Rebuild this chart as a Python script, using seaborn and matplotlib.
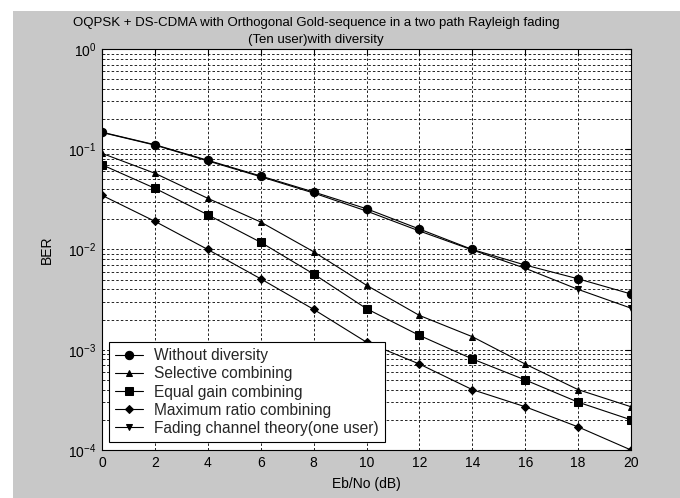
import numpy as np
import pandas as pd
import matplotlib
matplotlib.use("Agg")
import matplotlib.pyplot as plt
from matplotlib.patches import Rectangle
from matplotlib.ticker import LogLocator, FixedLocator, NullFormatter
import seaborn as sns

ebno = [0, 2, 4, 6, 8, 10, 12, 14, 16, 18, 20]
without_div = [0.148, 0.111, 0.0776, 0.0541, 0.0375, 0.0255, 0.0160, 0.0100, 0.0070, 0.0051, 0.0036]
selective = [0.091, 0.0576, 0.0324, 0.0188, 0.0095, 0.0044, 0.0022, 0.00135, 0.00072, 0.00040, 0.00027]
equal_gain = [0.070, 0.0408, 0.0222, 0.0118, 0.0057, 0.00257, 0.00139, 0.00081, 0.00050, 0.00030, 0.00020]
max_ratio = [0.0347, 0.0191, 0.0100, 0.0051, 0.00253, 0.00119, 0.00072, 0.00040, 0.00027, 0.00017, 0.0001]
theory = [0.147, 0.110, 0.0765, 0.0532, 0.0366, 0.0242, 0.0153, 0.0099, 0.0065, 0.0040, 0.0026]

labels = ["Without diversity", "Selective combining", "Equal gain combining",
          "Maximum ratio combining", "Fading channel theory(one user)"]
series = [without_div, selective, equal_gain, max_ratio, theory]
markers = ["o", "^", "s", "D", "v"]
msizes = [6.0, 5.0, 6.0, 4.0, 5.0]

title_line1 = "OQPSK + DS-CDMA with Orthogonal Gold-sequence in a two path Rayleigh fading"
title_line2 = "(Ten user)with diversity"

sns.set_theme(style="white")
plt.rcParams["font.family"] = ["Liberation Sans", "DejaVu Sans"]
plt.rcParams["mathtext.default"] = "regular"

W, H = 680, 498
fig = plt.figure(figsize=(6.8, 4.98), dpi=100, facecolor="white")
fig.patches.append(Rectangle((13 / W, 0), 1 - 13 / W, 1 - 11 / H, transform=fig.transFigure,
                             facecolor="#c8c8c8", edgecolor="none", zorder=-10))

ax = fig.add_axes([102 / W, 1 - 450 / H, (631 - 102) / W, (450 - 49) / H])
ax.set_facecolor("white")

rows = []
for lab, vals in zip(labels, series):
    for x, v in zip(ebno, vals):
        rows.append({"EbNo": x, "BER": v, "series": lab})
df = pd.DataFrame(rows)

for lab, mk, ms in zip(labels, markers, msizes):
    sns.lineplot(data=df[df["series"] == lab], x="EbNo", y="BER", ax=ax, color="black",
                 marker=mk, markersize=ms, markeredgecolor="black", markerfacecolor="black",
                 linewidth=0.8, label=lab, estimator=None, errorbar=None, zorder=3)

ax.set_yscale("log")
ax.set_xlim(0, 20)
ax.set_ylim(1e-4, 1)
ax.xaxis.set_major_locator(FixedLocator(ebno))
ax.yaxis.set_major_locator(LogLocator(base=10, numticks=10))
ax.yaxis.set_minor_locator(LogLocator(base=10, subs=np.arange(2, 10), numticks=20))
ax.yaxis.set_minor_formatter(NullFormatter())

grid_kw = dict(color="black", linestyle=(0, (3, 2.5)), linewidth=0.6)
ax.grid(True, which="major", axis="both", **grid_kw)
ax.grid(True, which="minor", axis="y", **grid_kw)
ax.set_axisbelow(True)

ax.tick_params(axis="both", which="major", direction="in", length=4, width=0.8,
               top=True, right=True, labelsize=10, colors="black", pad=4)
ax.tick_params(axis="y", which="minor", direction="in", length=2.5, width=0.6,
               left=True, right=True)
for s in ax.spines.values():
    s.set_color("black")
    s.set_linewidth(0.8)

ax.set_xlabel("Eb/No (dB)", fontsize=10, color="black", labelpad=5)
ax.set_ylabel("BER", fontsize=10, color="black", labelpad=10)
fig.text(316 / W, 1 - 23 / H, title_line1, ha="center", va="center", fontsize=9.5, color="black")
fig.text(316 / W, 1 - 40.5 / H, title_line2, ha="center", va="center", fontsize=9.5, color="black")

leg = ax.legend(loc="lower left", bbox_to_anchor=(0.0132, 0.02), borderaxespad=0,
                fancybox=False, edgecolor="black", framealpha=1, fontsize=11.2,
                handlelength=1.8, labelspacing=0.2, handletextpad=0.7,
                borderpad=0.4)
leg.get_frame().set_linewidth(0.8)

fig.savefig("out.png", dpi=100, facecolor=fig.get_facecolor())
